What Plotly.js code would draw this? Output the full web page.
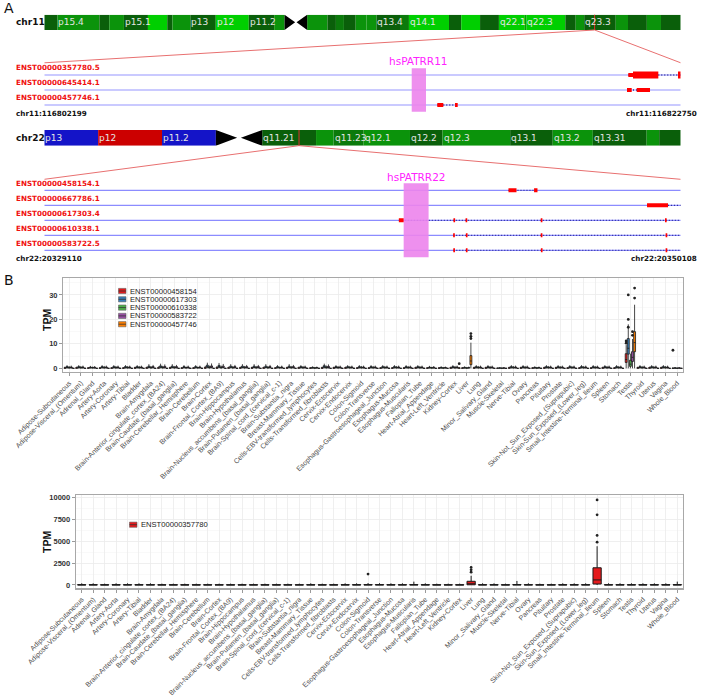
<!DOCTYPE html>
<html><head><meta charset="utf-8">
<script src="https://cdn.plot.ly/plotly-3.0.1.min.js"></script>
<style>html,body{margin:0;padding:0;background:#fff}#chart{width:701px;height:699px}</style>
</head><body><div id="chart"></div>
<script>
// ================= DATA =================
// chr11 ideogram (Mb)
const chr11Len = 135.086;
const chr11Band  = ['p15.5','p15.4','p15.3','p15.2','p15.1','p14.3','p14.2','p14.1','p13','p12','p11.2','p11.12','p11.11','q11','q12.1','q12.2','q12.3','q13.1','q13.2','q13.3','q13.4','q13.5','q14.1','q14.2','q14.3','q21','q22.1','q22.2','q22.3','q23.1','q23.2','q23.3','q24.1','q24.2','q24.3','q25'];
const chr11Start = [0,2.8,11.7,13.8,16.9,22.0,26.1,27.2,31.0,36.4,43.4,48.8,51.0,53.4,55.8,60.1,61.9,63.6,66.1,68.4,70.5,75.5,77.4,85.9,88.5,92.5,96.5,102.0,102.3,110.6,112.8,114.6,121.3,123.9,127.9,130.9];
const chr11End   = [2.8,11.7,13.8,16.9,22.0,26.1,27.2,31.0,36.4,43.4,48.8,51.0,53.4,55.8,60.1,61.9,63.6,66.1,68.4,70.5,75.5,77.4,85.9,88.5,92.5,96.5,102.0,102.3,110.6,112.8,114.6,121.3,123.9,127.9,130.9,135.086];
const chr11Stain = ['dark','mid','dark','mid','dark','light','dark','mid','dark','light','dark','mid','acen','acen','mid','dark','mid2','dark','mid','mid','dark','mid2','light','dark','light','dark','light','mid','light','dark','mid','dark','mid','dark','mid','dark'];
const chr11Labelled = ['p15.4','p15.1','p13','p12','p11.2','q13.4','q14.1','q22.1','q22.3','q23.3'];

// chr22 ideogram (Mb)
const chr22Len = 50.818;
const chr22Band  = ['p13','p12','p11.2','p11.1','q11.1','q11.21','q11.22','q11.23','q12.1','q12.2','q12.3','q13.1','q13.2','q13.31','q13.32','q13.33'];
const chr22Start = [0,4.3,9.4,13.7,15.0,17.4,21.7,23.1,25.5,29.2,31.8,37.2,40.6,43.8,48.1,49.1];
const chr22End   = [4.3,9.4,13.7,15.0,17.4,21.7,23.1,25.5,29.2,31.8,37.2,40.6,43.8,48.1,49.1,50.818];
const chr22Stain = ['blue','red','blue','acen','acen','dark','mid','mid2','mid','dark','mid','dark','mid','dark','mid','dark'];
const chr22Labelled = ['p13','p12','p11.2','q11.21','q11.23','q12.1','q12.2','q12.3','q13.1','q13.2','q13.31'];

// chr11 locus transcripts (bp)
const chr11Range = [116802199, 116822750];
const chr11Tx      = ['ENST00000357780.5','ENST00000645414.1','ENST00000457746.1'];
const chr11TxStart = [116821058, 116821016, 116814890];
const chr11TxEnd   = [116822750, 116821759, 116815549];
const chr11ExRow   = [1, 1, 1, 2, 2, 3, 3];
const chr11ExStart = [116821058, 116821210, 116822663, 116821016, 116821329, 116814890, 116815462];
const chr11ExEnd   = [116821210, 116822027, 116822750, 116821168, 116821759, 116815084, 116815549];
const chr11ExKind  = ['utr','cds','cds','utr','utr','utr','utr'];
const chr11Patrr   = {name:'hsPATRR11', start:116814064, end:116814525};

// chr22 locus transcripts (bp)
const chr22Range = [20329110, 20350108];
const chr22Tx      = ['ENST00000458154.1','ENST00000667786.1','ENST00000617303.4','ENST00000610338.1','ENST00000583722.5'];
const chr22TxStart = [20344426, 20348997, 20340808, 20342600, 20342605];
const chr22TxEnd   = [20345382, 20351500, 20351500, 20351500, 20351500];
const chr22ExRow   = [1,1, 2, 3,3,3,3,3, 4,4,4,4, 5,5,5,5];
const chr22ExStart = [20344426,20345270, 20348997, 20340808,20342610,20343010,20345490,20349590, 20342600,20343020,20345490,20349610, 20342605,20343020,20345495,20349610];
const chr22ExEnd   = [20344690,20345382, 20349690, 20340973,20342665,20343065,20345545,20349645, 20342655,20343075,20345545,20349665, 20342660,20343075,20345550,20349665];
const chr22Patrr   = {name:'hsPATRR22', start:20340967, end:20341790};

// GTEx tissues
const tissues = ['Adipose-Subcutaneous','Adipose-Visceral_(Omentum)','Adrenal_Gland','Artery-Aorta','Artery-Coronary','Artery-Tibial','Bladder','Brain-Amygdala','Brain-Anterior_cingulate_cortex_(BA24)','Brain-Caudate_(basal_ganglia)','Brain-Cerebellar_Hemisphere','Brain-Cerebellum','Brain-Cortex','Brain-Frontal_Cortex_(BA9)','Brain-Hippocampus','Brain-Hypothalamus','Brain-Nucleus_accumbens_(basal_ganglia)','Brain-Putamen_(basal_ganglia)','Brain-Spinal_cord_(cervical_c-1)','Brain-Substantia_nigra','Breast-Mammary_Tissue','Cells-EBV-transformed_lymphocytes','Cells-Transformed_fibroblasts','Cervix-Ectocervix','Cervix-Endocervix','Colon-Sigmoid','Colon-Transverse','Esophagus-Gastroesophageal_Junction','Esophagus-Mucosa','Esophagus-Muscularis','Fallopian_Tube','Heart-Atrial_Appendage','Heart-Left_Ventricle','Kidney-Cortex','Liver','Lung','Minor_Salivary_Gland','Muscle-Skeletal','Nerve-Tibial','Ovary','Pancreas','Pituitary','Prostate','Skin-Not_Sun_Exposed_(Suprapubic)','Skin-Sun_Exposed_(Lower_leg)','Small_Intestine-Terminal_Ileum','Spleen','Stomach','Testis','Thyroid','Uterus','Vagina','Whole_Blood'];

// top panel transcripts (TPM box statistics per tissue)
const topIds = ['ENST00000458154','ENST00000617303','ENST00000610338','ENST00000583722','ENST00000457746'];
const q1_458154  = [0,0,0,0,0,0,0,0,0,0, 0,0,0,0,0,0,0,0,0,0, 0,0,0,0,0,0,0,0,0,0, 0,0,0,0,0,0,0,0,0,0, 0,0,0,0,0,0,0,0,2.4,0, 0,0,0];
const med_458154 = [0.1,0.1,0.05,0.05,0.05,0.05,0.1,0.1,0.1,0.1, 0.05,0.05,0.1,0.1,0.1,0.1,0.1,0.1,0.05,0.1, 0.1,0.05,0.05,0.1,0.1,0.05,0.05,0.05,0.05,0.05, 0.1,0.05,0.05,0.1,0.05,0.1,0.1,0.02,0.1,0.1, 0.05,0.1,0.1,0.05,0.05,0.05,0.1,0.05,3.6,0.1, 0.1,0.1,0.02];
const q3_458154  = [0.3,0.3,0.2,0.2,0.2,0.2,0.3,0.3,0.3,0.3, 0.2,0.2,0.4,0.4,0.3,0.3,0.3,0.3,0.2,0.3, 0.3,0.2,0.3,0.3,0.3,0.2,0.2,0.2,0.2,0.2, 0.3,0.2,0.2,0.3,0.2,0.3,0.3,0.1,0.3,0.3, 0.2,0.3,0.3,0.2,0.2,0.2,0.3,0.2,6.0,0.3, 0.3,0.3,0.1];
const hi_458154  = [0.7,0.7,0.5,0.5,0.5,0.5,0.7,0.7,0.8,0.7, 0.5,0.5,1.0,0.9,0.7,0.7,0.7,0.7,0.5,0.7, 0.7,0.5,0.7,0.7,0.7,0.5,0.5,0.5,0.5,0.5, 0.7,0.5,0.5,0.7,0.5,0.7,0.7,0.3,0.7,0.7, 0.5,0.7,0.7,0.5,0.5,0.5,0.7,0.5,9.5,0.7, 0.7,0.7,0.3];
const q1_617303  = [0.2,0.2,0.15,0.2,0.2,0.2,0.2,0.3,0.3,0.3, 0.2,0.2,0.4,0.4,0.3,0.3,0.3,0.3,0.2,0.3, 0.2,0.1,0.3,0.2,0.2,0.2,0.2,0.2,0.2,0.2, 0.2,0.15,0.1,0.2,0.1,0.2,0.2,0.05,0.2,0.2, 0.1,0.2,0.2,0.2,0.2,0.2,0.2,0.2,5.8,0.2, 0.2,0.2,0.05];
const med_617303 = [0.4,0.4,0.3,0.4,0.4,0.4,0.4,0.5,0.6,0.5, 0.4,0.4,0.8,0.7,0.5,0.5,0.5,0.5,0.4,0.5, 0.4,0.2,0.6,0.4,0.4,0.4,0.4,0.4,0.4,0.4, 0.4,0.3,0.2,0.4,0.2,0.4,0.4,0.1,0.4,0.4, 0.2,0.4,0.4,0.4,0.4,0.4,0.4,0.4,8.2,0.4, 0.4,0.4,0.1];
const q3_617303  = [0.7,0.7,0.5,0.7,0.7,0.7,0.7,0.9,1.0,0.9, 0.7,0.7,1.3,1.2,0.9,0.9,0.9,0.9,0.7,0.9, 0.7,0.4,1.1,0.7,0.7,0.7,0.7,0.7,0.7,0.7, 0.7,0.5,0.4,0.7,0.4,0.7,0.7,0.2,0.7,0.7, 0.4,0.7,0.7,0.7,0.7,0.7,0.7,0.7,12.2,0.7, 0.7,0.7,0.2];
const hi_617303  = [1.3,1.3,1.0,1.3,1.3,1.3,1.3,1.7,1.9,1.7, 1.3,1.3,2.3,2.2,1.7,1.7,1.7,1.7,1.3,1.7, 1.3,0.8,1.9,1.3,1.3,1.3,1.3,1.3,1.3,1.3, 1.3,1.0,0.8,1.3,0.8,1.3,1.3,0.4,1.3,1.3, 0.8,1.3,1.3,1.3,1.3,1.3,1.3,1.3,18.0,1.3, 1.3,1.3,0.4];
const q1_610338  = [0.1,0.1,0.1,0.1,0.1,0.1,0.1,0.1,0.1,0.1, 0.1,0.1,0.1,0.1,0.1,0.1,0.1,0.1,0.1,0.1, 0.1,0.05,0.1,0.1,0.1,0.1,0.1,0.1,0.1,0.1, 0.1,0.05,0.05,0.1,0.05,0.1,0.1,0.02,0.1,0.1, 0.05,0.1,0.1,0.1,0.1,0.1,0.1,0.1,0.8,0.1, 0.1,0.1,0.02];
const med_610338 = [0.25,0.25,0.2,0.25,0.25,0.25,0.25,0.25,0.3,0.25, 0.2,0.2,0.3,0.3,0.25,0.25,0.25,0.25,0.2,0.25, 0.25,0.1,0.3,0.25,0.25,0.25,0.25,0.25,0.25,0.25, 0.25,0.15,0.1,0.25,0.1,0.25,0.25,0.05,0.25,0.25, 0.1,0.25,0.25,0.25,0.25,0.25,0.25,0.25,1.7,0.25, 0.25,0.25,0.05];
const q3_610338  = [0.45,0.45,0.35,0.45,0.45,0.45,0.45,0.45,0.5,0.45, 0.35,0.35,0.55,0.55,0.45,0.45,0.45,0.45,0.35,0.45, 0.45,0.2,0.55,0.45,0.45,0.45,0.45,0.45,0.45,0.45, 0.45,0.3,0.2,0.45,0.2,0.45,0.45,0.1,0.45,0.45, 0.2,0.45,0.45,0.45,0.45,0.45,0.45,0.45,3.3,0.45, 0.45,0.45,0.1];
const hi_610338  = [0.9,0.9,0.7,0.9,0.9,0.9,0.9,0.9,1.0,0.9, 0.7,0.7,1.1,1.1,0.9,0.9,0.9,0.9,0.7,0.9, 0.9,0.4,1.1,0.9,0.9,0.9,0.9,0.9,0.9,0.9, 0.9,0.6,0.4,0.9,0.4,0.9,0.9,0.2,0.9,0.9, 0.4,0.9,0.9,0.9,0.9,0.9,0.9,0.9,6.0,0.9, 0.9,0.9,0.2];
const q1_583722  = [0.15,0.15,0.1,0.15,0.15,0.15,0.15,0.2,0.2,0.2, 0.15,0.15,0.3,0.3,0.2,0.2,0.2,0.2,0.15,0.2, 0.15,0.1,0.2,0.15,0.15,0.15,0.15,0.15,0.15,0.15, 0.15,0.1,0.1,0.15,0.1,0.15,0.15,0.05,0.15,0.15, 0.1,0.15,0.15,0.15,0.15,0.15,0.15,0.15,2.8,0.15, 0.15,0.15,0.05];
const med_583722 = [0.3,0.3,0.25,0.3,0.3,0.3,0.3,0.4,0.4,0.4, 0.3,0.3,0.6,0.5,0.4,0.4,0.4,0.4,0.3,0.4, 0.3,0.2,0.4,0.3,0.3,0.3,0.3,0.3,0.3,0.3, 0.3,0.25,0.2,0.3,0.2,0.3,0.3,0.1,0.3,0.3, 0.2,0.3,0.3,0.3,0.3,0.3,0.3,0.3,4.5,0.3, 0.3,0.3,0.1];
const q3_583722  = [0.55,0.55,0.45,0.55,0.55,0.55,0.55,0.7,0.8,0.7, 0.55,0.55,1.0,0.9,0.7,0.7,0.7,0.7,0.55,0.7, 0.55,0.35,0.8,0.55,0.55,0.55,0.55,0.55,0.55,0.55, 0.55,0.45,0.35,0.55,0.35,0.55,0.55,0.2,0.55,0.55, 0.35,0.55,0.55,0.55,0.55,0.55,0.55,0.55,6.8,0.55, 0.55,0.55,0.2];
const hi_583722  = [1.1,1.1,0.9,1.1,1.1,1.1,1.1,1.4,1.6,1.4, 1.1,1.1,2.0,1.8,1.4,1.4,1.4,1.4,1.1,1.4, 1.1,0.7,1.6,1.1,1.1,1.1,1.1,1.1,1.1,1.1, 1.1,0.9,0.7,1.1,0.7,1.1,1.1,0.4,1.1,1.1, 0.7,1.1,1.1,1.1,1.1,1.1,1.1,1.1,12.0,1.1, 1.1,1.1,0.4];
const q1_457746  = [0,0,0,0,0,0,0,0,0,0, 0,0,0,0,0,0,0,0,0,0, 0,0,0,0,0,0,0,0,0,0, 0,0,0,0,1.5,0,0,0,0,0, 0,0,0,0,0,0,0,0,6.8,0, 0,0,0];
const med_457746 = [0,0,0,0,0,0,0,0,0,0, 0,0,0,0,0,0,0,0,0,0, 0,0,0,0,0,0,0,0,0,0, 0,0,0,0.05,3.0,0,0,0,0,0, 0,0,0,0,0,0,0,0,10.5,0, 0,0,0];
const q3_457746  = [0.02,0.02,0.02,0.02,0.02,0.02,0.02,0.02,0.02,0.02, 0.02,0.02,0.02,0.02,0.02,0.02,0.02,0.02,0.02,0.02, 0.02,0.02,0.02,0.02,0.02,0.02,0.02,0.02,0.02,0.02, 0.02,0.02,0.02,0.2,5.2,0.02,0.02,0.02,0.02,0.02, 0.02,0.02,0.02,0.02,0.02,0.02,0.02,0.02,15.0,0.02, 0.02,0.02,0.02];
const hi_457746  = [0.05,0.05,0.05,0.05,0.05,0.05,0.05,0.05,0.05,0.05, 0.05,0.05,0.05,0.05,0.05,0.05,0.05,0.05,0.05,0.05, 0.05,0.05,0.05,0.05,0.05,0.05,0.05,0.05,0.05,0.05, 0.05,0.05,0.05,0.5,10.5,0.05,0.05,0.05,0.05,0.05, 0.05,0.05,0.05,0.05,0.05,0.05,0.05,0.05,26.0,0.05, 0.05,0.05,0.05];
// top-panel outliers: tissue, transcript, TPM
const outTopTissue = ['Testis','Testis','Testis','Testis','Testis','Testis','Testis','Testis','Testis','Liver','Liver','Liver','Kidney-Cortex','Whole_Blood'];
const outTopTx     = ['ENST00000457746','ENST00000457746','ENST00000617303','ENST00000617303','ENST00000617303','ENST00000583722','ENST00000583722','ENST00000458154','ENST00000458154','ENST00000457746','ENST00000457746','ENST00000457746','ENST00000457746','ENST00000458154'];
const outTopTPM    = [32.8, 28.7, 30.0, 20.0, 16.8, 15.0, 13.5, 11.2, 10.3, 14.2, 13.1, 12.2, 1.9, 7.4];

// bottom panel transcript ENST00000357780
const botId = 'ENST00000357780';
const q1_357780  = [2,2,1,2,2,2,2,1,1,1, 1,1,1,1,1,1,1,1,1,1, 2,1,1,2,2,2,2,2,2,2, 2,1,1,1,20,2,2,1,3,2, 1,1,2,2,2,110,2,2,2,2, 2,2,1];
const med_357780 = [8,8,5,8,8,8,8,5,5,5, 5,5,5,5,5,5,5,5,5,5, 8,5,5,8,8,10,10,8,8,10, 8,5,5,5,120,8,8,5,12,8, 5,5,8,8,8,577,8,8,8,8, 8,8,5];
const q3_357780  = [30,30,20,30,30,30,30,20,20,20, 20,20,20,20,20,20,20,20,20,20, 30,20,20,30,30,40,40,30,30,45, 30,20,20,20,420,30,30,20,50,30, 20,20,30,30,30,1960,30,30,30,30, 30,30,45];
const hi_357780  = [190,190,150,190,190,190,190,150,150,150, 150,150,150,150,150,150,150,150,150,150, 190,150,150,190,190,220,200,190,190,380, 190,150,150,150,1050,190,190,150,460,190, 150,150,190,190,190,4420,190,190,190,190, 190,190,380];
const outBotTissue = ['Colon-Sigmoid','Liver','Liver','Liver','Small_Intestine-Terminal_Ileum','Small_Intestine-Terminal_Ileum','Small_Intestine-Terminal_Ileum','Small_Intestine-Terminal_Ileum'];
const outBotTPM    = [1240, 2000, 1730, 1460, 4880, 5650, 8000, 9700];

// ================= DRAWING =================
const W = 701, H = 699;
const PX = p => p / W;        // pixel x -> paper
const PY = p => 1 - p / H;    // pixel y -> paper
const stainColor = {dark:'#0a5f0a', mid:'#0b930b', mid2:'#0b7a0b', light:'#00cf00', blue:'#1414c8', red:'#cc0000', acen:'#000000'};
const topColors = ['#E41A1C','#377EB8','#4DAF4A','#984EA3','#FF7F00'];
const botColor = '#E41A1C';
const traces = [], shapes = [], annotations = [];
const txFont = {family:'DejaVu Sans', size:7.2, color:'#f01010', weight:'bold'};
const coordFont = {family:'DejaVu Sans', size:7.2, color:'#111', weight:'bold'};

function ideogram(starts, ends, stains, names, labelled, xa, ya) {
  const nonAcen = starts.map((s,i)=>i).filter(i=>stains[i] !== 'acen');
  traces.push({type:'bar', orientation:'h', xaxis:xa, yaxis:ya,
    base: nonAcen.map(i=>starts[i]), x: nonAcen.map(i=>ends[i]-starts[i]),
    y: nonAcen.map(()=>0), width: 1,
    marker:{color: nonAcen.map(i=>stainColor[stains[i]]), line:{width:0}},
    hoverinfo:'skip'});
  const ac = starts.map((s,i)=>i).filter(i=>stains[i] === 'acen');
  const cs = Math.min(...ac.map(i=>starts[i])), ce = Math.max(...ac.map(i=>ends[i]));
  const cm = (cs+ce)/2;
  traces.push({type:'scatter', mode:'lines', fill:'toself', xaxis:xa, yaxis:ya,
    x:[cs,cs,cm-0.15,cs,null,ce,ce,cm+0.15,ce], y:[-0.5,0.5,0,-0.5,null,-0.5,0.5,0,-0.5],
    fillcolor:'#000', line:{width:0, color:'#000'}, hoverinfo:'skip'});
  names.forEach((n,i)=>{
    if (labelled.includes(n)) annotations.push({xref:xa, yref:ya, x:starts[i], y:0, text:n,
      xanchor:'left', yanchor:'middle', showarrow:false, borderpad:0,
      font:{family:'DejaVu Sans', size:9, color:'#e4e4e4'}});
  });
}
ideogram(chr11Start, chr11End, chr11Stain, chr11Band, chr11Labelled, 'x', 'y');
ideogram(chr22Start, chr22End, chr22Stain, chr22Band, chr22Labelled, 'x3', 'y3');

function locusTrack(range, txNames, txS, txE, exRow, exS, exE, exKind, xa, ya, trackColor) {
  // background track lines
  const lx = [], ly = [];
  txNames.forEach((n,i)=>{ lx.push(range[0], range[1], null); ly.push(i+1, i+1, null); });
  traces.push({type:'scatter', mode:'lines', xaxis:xa, yaxis:ya, x:lx, y:ly,
    line:{color:trackColor, width:1.3}, hoverinfo:'skip'});
  // introns
  const ix = [], iy = [];
  txNames.forEach((n,i)=>{ ix.push(txS[i], Math.min(txE[i], range[1]), null); iy.push(i+1, i+1, null); });
  traces.push({type:'scatter', mode:'lines', xaxis:xa, yaxis:ya, x:ix, y:iy,
    line:{color:'#30309a', width:1.3, dash:'1px,2px'}, hoverinfo:'skip'});
  // exons as thick segments (drawn above introns)
  ['utr','cds'].forEach(kind=>{
    const ex = [], ey = [];
    exS.forEach((s,i)=>{ if (exKind[i]===kind) { ex.push(s, exE[i], null); ey.push(exRow[i], exRow[i], null); } });
    if (ex.length) traces.push({type:'scatter', mode:'lines', xaxis:xa, yaxis:ya, x:ex, y:ey,
      line:{color:'#ff0000', width: kind==='cds' ? 7 : 4}, hoverinfo:'skip'});
  });
  // labels
  txNames.forEach((n,i)=>annotations.push({xref:'paper', yref:ya, x:PX(14), y:i+1-0.47, text:n,
    xanchor:'left', yanchor:'middle', showarrow:false, font:txFont}));
}
locusTrack(chr11Range, chr11Tx, chr11TxStart, chr11TxEnd, chr11ExRow, chr11ExStart, chr11ExEnd, chr11ExKind, 'x2', 'y2', '#b9b9ff');
locusTrack(chr22Range, chr22Tx, chr22TxStart, chr22TxEnd, chr22ExRow, chr22ExStart, chr22ExEnd, chr22ExRow.map(()=> 'utr'), 'x4', 'y4', '#8c8cff');

// PATRR boxes and labels
[[chr11Patrr,'x2','y2',0.55,3.45,0.1],[chr22Patrr,'x4','y4',0.53,5.47,0.1]].forEach(([p,xa,ya,y0,y1,ly])=>{
  shapes.push({type:'rect', xref:xa, yref:ya, x0:p.start, x1:p.end, y0:y0, y1:y1,
    fillcolor:'rgba(236,132,236,0.9)', line:{width:0}});
  annotations.push({xref:xa, yref:ya, x:(p.start+p.end)/2, y:ly, text:p.name, showarrow:false,
    xanchor:'center', yanchor:'middle', font:{family:'DejaVu Sans', size:10.5, color:'#ff22ff'}});
});

// coordinate labels
annotations.push({xref:'paper', yref:'y2', x:PX(14), y:3.55, text:'chr11:'+chr11Range[0], xanchor:'left', yanchor:'middle', showarrow:false, font:coordFont});
annotations.push({xref:'paper', yref:'y2', x:PX(699), y:3.55, text:'chr11:'+chr11Range[1], xanchor:'right', yanchor:'middle', showarrow:false, font:coordFont});
annotations.push({xref:'paper', yref:'y4', x:PX(14), y:5.53, text:'chr22:'+chr22Range[0], xanchor:'left', yanchor:'middle', showarrow:false, font:coordFont});
annotations.push({xref:'paper', yref:'y4', x:PX(699), y:5.53, text:'chr22:'+chr22Range[1], xanchor:'right', yanchor:'middle', showarrow:false, font:coordFont});
annotations.push({xref:'paper', yref:'paper', x:PX(14), y:PY(22.3), text:'chr11', xanchor:'left', yanchor:'middle', showarrow:false, font:{family:'DejaVu Sans', size:9, color:'#111', weight:'bold'}});
annotations.push({xref:'paper', yref:'paper', x:PX(14), y:PY(138), text:'chr22', xanchor:'left', yanchor:'middle', showarrow:false, font:{family:'DejaVu Sans', size:9, color:'#111', weight:'bold'}});
annotations.push({xref:'paper', yref:'paper', x:PX(2), y:PY(8.5), text:'A', xanchor:'left', yanchor:'middle', showarrow:false, font:{family:'DejaVu Sans', size:14, color:'#111'}});
annotations.push({xref:'paper', yref:'paper', x:PX(2), y:PY(280), text:'B', xanchor:'left', yanchor:'middle', showarrow:false, font:{family:'DejaVu Sans', size:14, color:'#111'}});

// zoom connector lines and locus markers
const zoomLine = {color:'#e87070', width:1};
function connector(xa, locS, locE, chrLen, ideoTop, ideoBot, trackTop) {
  shapes.push({type:'line', xref:xa, yref:'paper', x0:0, y0:PY(trackTop), x1:locS, y1:PY(ideoBot), line:zoomLine});
  shapes.push({type:'line', xref:xa, yref:'paper', x0:locE, y0:PY(ideoBot), x1:chrLen, y1:PY(trackTop), line:zoomLine});
  shapes.push({type:'line', xref:xa, yref:'paper', x0:(locS+locE)/2, y0:PY(ideoTop), x1:(locS+locE)/2, y1:PY(ideoBot), line:{color:'#dd3030', width:1}});
}
connector('x', chr11Range[0]/1e6, chr11Range[1]/1e6, chr11Len, 14.7, 30, 62.8);
connector('x3', chr22Range[0]/1e6, chr22Range[1]/1e6, chr22Len, 130, 145.7, 179.3);

// ---- box plots ----
const idx = tissues.map((t,i)=>i);
const topStats = [
  [q1_458154, med_458154, q3_458154, hi_458154],
  [q1_617303, med_617303, q3_617303, hi_617303],
  [q1_610338, med_610338, q3_610338, hi_610338],
  [q1_583722, med_583722, q3_583722, hi_583722],
  [q1_457746, med_457746, q3_457746, hi_457746]];
const dodge = 0.18;
topIds.forEach((id,k)=>{
  const [q1,md,q3,hi] = topStats[k];
  traces.push({type:'box', xaxis:'x5', yaxis:'y5', name:id,
    x: idx.map(i=>i+(k-2)*dodge), q1:q1, median:md, q3:q3, lowerfence:q1.map(()=>0), upperfence:hi,
    width: dodge*0.92, fillcolor: topColors[k], line:{color:'#1a1a1a', width:0.8}, whiskerwidth:0,
    boxpoints:false, hoverinfo:'skip'});
});
const outTopK = outTopTx.map(t=>topIds.indexOf(t));
traces.push({type:'scatter', mode:'markers', xaxis:'x5', yaxis:'y5',
  x: outTopTissue.map((t,j)=>tissues.indexOf(t)+(outTopK[j]-2)*dodge), y: outTopTPM,
  marker:{size:2.8, color:'#222'}, hoverinfo:'skip'});

traces.push({type:'box', xaxis:'x6', yaxis:'y6', name:botId, x: idx,
  q1:q1_357780, median:med_357780, q3:q3_357780, lowerfence:q1_357780.map(()=>0), upperfence:hi_357780,
  width:0.72, fillcolor:botColor, line:{color:'#1a1a1a', width:1}, whiskerwidth:0, boxpoints:false, hoverinfo:'skip'});
traces.push({type:'scatter', mode:'markers', xaxis:'x6', yaxis:'y6',
  x: outBotTissue.map(t=>tissues.indexOf(t)), y: outBotTPM,
  marker:{size:2.8, color:'#222'}, hoverinfo:'skip'});

// manual legends
function legendItem(xp, yp, color, label) {
  shapes.push({type:'rect', xref:'paper', yref:'paper', x0:PX(xp), x1:PX(xp+7.5), y0:PY(yp+2.6), y1:PY(yp-2.6),
    fillcolor:color, line:{color:'#666', width:0.6}});
  shapes.push({type:'line', xref:'paper', yref:'paper', x0:PX(xp), x1:PX(xp+7.5), y0:PY(yp), y1:PY(yp), line:{color:'#333', width:0.8}});
  annotations.push({xref:'paper', yref:'paper', x:PX(xp+10.5), y:PY(yp), text:label, xanchor:'left', yanchor:'middle',
    showarrow:false, borderpad:0, font:{family:'Liberation Sans', size:7.6, color:'#1a1a1a'}});
}
topIds.forEach((id,k)=>legendItem(118.5, 291 + k*8.3, topColors[k], id));
legendItem(129.5, 524.7, botColor, botId);

// TPM titles
annotations.push({xref:'paper', yref:'paper', x:PX(47), y:PY(320), text:'TPM', textangle:-90, showarrow:false,
  xanchor:'center', yanchor:'middle', font:{family:'Liberation Sans', size:10.5, color:'#111', weight:'bold'}});
annotations.push({xref:'paper', yref:'paper', x:PX(47), y:PY(542), text:'TPM', textangle:-90, showarrow:false,
  xanchor:'center', yanchor:'middle', font:{family:'Liberation Sans', size:10.5, color:'#111', weight:'bold'}});

const hid = {visible:false, fixedrange:true};
const boxX = dom => ({domain:dom, range:[-0.5,52.5], tickmode:'array', tickvals:idx, ticktext:tissues,
  tickangle:-45, tickfont:{family:'Liberation Sans', size:7, color:'#4d4d4d'}, ticks:'outside', ticklen:3,
  tickcolor:'#9a9a9a', showgrid:true, gridcolor:'#ebebeb', gridwidth:0.8, zeroline:false,
  showline:true, mirror:true, linecolor:'#a8a8a8', linewidth:1.3});
const boxY = (dom, range, dtick, minor) => ({domain:dom, range:range, tickmode:'linear', tick0:0, dtick:dtick, tickformat:'d',
  tickfont:{family:'Liberation Sans', size:7.5, color:'#333', weight:'bold'}, ticks:'outside', ticklen:3,
  tickcolor:'#9a9a9a', showgrid:true, gridcolor:'#ebebeb', gridwidth:0.8, zeroline:false,
  minor:{dtick:minor, showgrid:true, gridcolor:'#f4f4f4', gridwidth:0.5, ticks:''},
  showline:true, mirror:true, linecolor:'#a8a8a8', linewidth:1.3});

const layout = {
  width:W, height:H, margin:{l:0,r:0,t:0,b:0}, paper_bgcolor:'#fff', plot_bgcolor:'rgba(0,0,0,0)',
  showlegend:false, barmode:'overlay', boxmode:'overlay',
  xaxis: Object.assign({domain:[PX(44.3),PX(680.7)], range:[0,chr11Len], anchor:'y'}, hid),
  yaxis: Object.assign({domain:[PY(30),PY(14.7)], range:[-0.5,0.5], anchor:'x'}, hid),
  xaxis2:Object.assign({domain:[PX(44.3),PX(680.7)], range:chr11Range, anchor:'y2'}, hid),
  yaxis2:Object.assign({domain:[PY(120),PY(60)], range:[4,0], anchor:'x2'}, hid),
  xaxis3:Object.assign({domain:[PX(44.3),PX(680.7)], range:[0,chr22Len], anchor:'y3'}, hid),
  yaxis3:Object.assign({domain:[PY(145.7),PY(130)], range:[-0.5,0.5], anchor:'x3'}, hid),
  xaxis4:Object.assign({domain:[PX(44.3),PX(680.7)], range:chr22Range, anchor:'y4'}, hid),
  yaxis4:Object.assign({domain:[PY(265.3),PY(175.3)], range:[6,0], anchor:'x4'}, hid),
  xaxis5:Object.assign(boxX([PX(63.3),PX(683)]), {anchor:'y5'}),
  yaxis5:Object.assign(boxY([PY(372),PY(278.3)], [-1.5,36.8], 10, 5), {anchor:'x5'}),
  xaxis6:Object.assign(boxX([PX(76),PX(683)]), {anchor:'y6'}),
  yaxis6:Object.assign(boxY([PY(588.3),PY(495)], [-380,10265], 2500, 1250), {anchor:'x6'}),
  shapes:shapes, annotations:annotations
};
Plotly.newPlot('chart', traces, layout, {staticPlot:true, displayModeBar:false});
</script></body></html>
